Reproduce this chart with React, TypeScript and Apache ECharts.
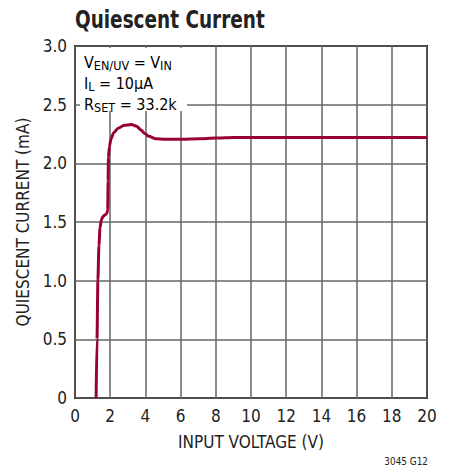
import React, { useEffect, useRef } from "react";
import * as echarts from "echarts";

const voltage = [1.2, 1.25, 1.3, 1.36, 1.42, 1.5, 1.6, 1.7, 1.8, 1.86, 1.88, 1.9, 1.95, 2.05, 2.2, 2.45, 2.8, 3.2, 3.5, 3.75, 3.95, 4.2, 4.6, 5.1, 6, 7, 8, 9, 10, 12, 14, 16, 18, 20];
const current = [0, 0.5, 1.0, 1.3, 1.45, 1.52, 1.55, 1.56, 1.57, 1.6, 1.85, 2.05, 2.14, 2.21, 2.26, 2.3, 2.325, 2.33, 2.315, 2.285, 2.255, 2.23, 2.21, 2.205, 2.205, 2.21, 2.215, 2.22, 2.22, 2.22, 2.22, 2.22, 2.22, 2.22];
const xTicks = [0, 2, 4, 6, 8, 10, 12, 14, 16, 18, 20];
const yTicks = [0, 0.5, 1.0, 1.5, 2.0, 2.5, 3.0];
const title = "Quiescent Current";
const xName = "INPUT VOLTAGE (V)";
const yName = "QUIESCENT CURRENT (mA)";
const figId = "3045 G12";

const FONT = "'Liberation Sans Narrow', 'DejaVu Sans Condensed', 'Liberation Sans', sans-serif";

export default function App() {
  const ref = useRef<HTMLDivElement>(null);
  useEffect(() => {
    const chart = echarts.init(ref.current!, null, { renderer: "svg" });
    const data = voltage.map((v, i) => [v, current[i]]);
    const main = { fontSize: 16, lineHeight: 20, fontFamily: FONT, color: "#222" };
    const sub = { fontSize: 12.5, lineHeight: 9, verticalAlign: "bottom", fontFamily: FONT, color: "#222" };
    chart.setOption({
      animation: false,
      backgroundColor: "#fff",
      grid: { left: 75, top: 46, right: 23, bottom: 73, show: true, borderColor: "#111", borderWidth: 2, backgroundColor: "transparent" },
      xAxis: {
        type: "value",
        min: xTicks[0],
        max: xTicks[xTicks.length - 1],
        interval: 2,
        name: xName,
        nameLocation: "middle",
        nameGap: 35,
        nameTextStyle: { fontFamily: FONT, fontSize: 17, color: "#222" },
        axisLine: { show: false },
        axisTick: { show: false },
        axisLabel: { fontFamily: FONT, fontSize: 17, color: "#222", margin: 9 },
        splitLine: { show: true, lineStyle: { color: "#666", width: 1.5 } },
      },
      yAxis: {
        type: "value",
        min: yTicks[0],
        max: yTicks[yTicks.length - 1],
        interval: 0.5,
        name: yName,
        nameLocation: "middle",
        nameGap: 44,
        nameTextStyle: { fontFamily: FONT, fontSize: 17, color: "#222" },
        axisLine: { show: false },
        axisTick: { show: false },
        axisLabel: {
          fontFamily: FONT,
          fontSize: 17,
          color: "#222",
          margin: 8,
          formatter: (v: number) => (v === 0 ? "0" : v.toFixed(1)),
        },
        splitLine: { show: true, lineStyle: { color: "#666", width: 1.5 } },
      },
      series: [
        {
          type: "line",
          data,
          showSymbol: false,
          smooth: 0.25,
          smoothMonotone: "x",
          lineStyle: { color: "#990033", width: 3 },
          z: 5,
        },
      ],
      graphic: [
        {
          type: "text",
          x: 75,
          y: 7,
          scaleX: 0.82,
          style: {
            text: title,
            fontFamily: FONT,
            fontWeight: "bold",
            fontSize: 25,
            fill: "#222",
            verticalAlign: "top",
            align: "left",
          },
        },
        {
          type: "rect",
          shape: { x: 80, y: 48, width: 107, height: 63 },
          style: { fill: "#fff" },
          z: 3,
        },
        {
          type: "text",
          x: 84,
          y: 52,
          z: 4,
          style: {
            text: "{a|V}{s|EN/UV}{a| = V}{s|IN}",
            rich: { a: main, s: sub },
          },
        },
        {
          type: "text",
          x: 84,
          y: 73,
          z: 4,
          style: {
            text: "{a|I}{s|L}{a| = 10μA}",
            rich: { a: main, s: sub },
          },
        },
        {
          type: "text",
          x: 84,
          y: 94,
          z: 4,
          style: {
            text: "{a|R}{s|SET}{a| = 33.2k}",
            rich: { a: main, s: sub },
          },
        },
        {
          type: "text",
          x: 428,
          y: 455,
          scaleX: 0.9,
          style: {
            text: figId,
            fontFamily: FONT,
            fontSize: 11,
            fill: "#222",
            align: "right",
            verticalAlign: "top",
          },
        },
      ],
    });
    return () => chart.dispose();
  }, []);
  return <div ref={ref} style={{ position: "absolute", left: 0, top: 0, width: 450, height: 471 }} />;
}
